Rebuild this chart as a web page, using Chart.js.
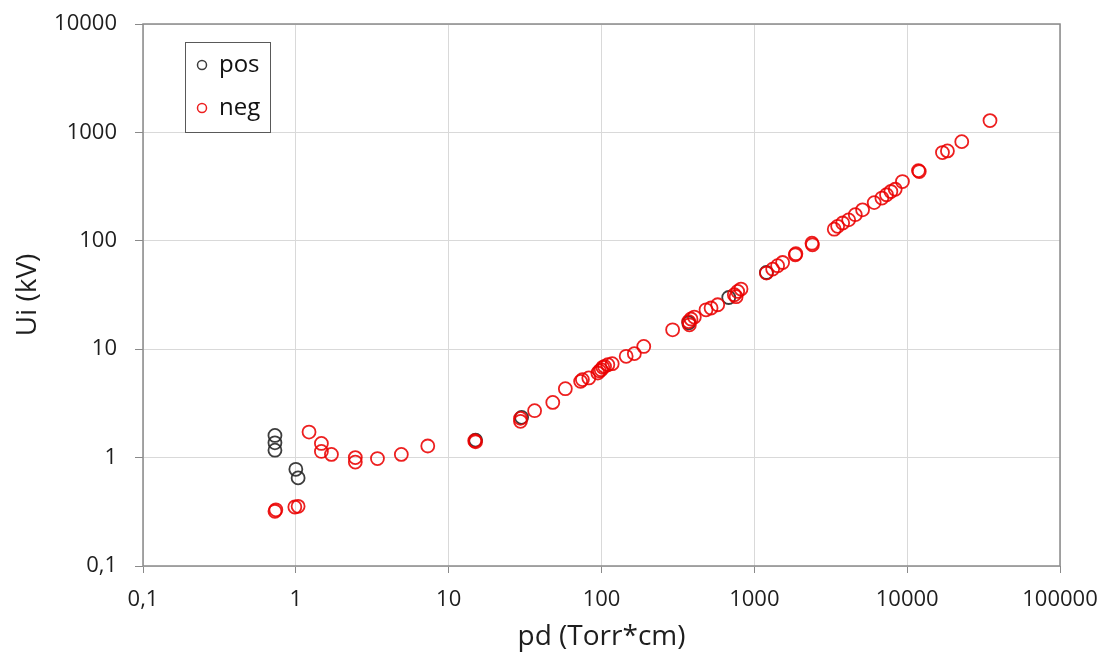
<!DOCTYPE html>
<html>
<head>
<meta charset="utf-8">
<script src="https://cdn.jsdelivr.net/npm/chart.js@4/dist/chart.umd.min.js"></script>
<style>
html,body{margin:0;padding:0;background:#fff;}
#wrap{width:1101px;height:655px;position:relative;}
</style>
</head>
<body>
<div id="wrap"><canvas id="c" width="1101" height="655"></canvas></div>
<script>
// ---- data ----
const seriesLabels = ["pos", "neg"];
const xTickValues = [0.1, 1, 10, 100, 1000, 10000, 100000];
const yTickValues = [0.1, 1, 10, 100, 1000, 10000];

const posX = [0.73, 0.73, 0.73, 1.0, 1.035, 15, 30, 372, 680, 1200];
const posY = [1.6, 1.37, 1.17, 0.78, 0.65, 1.45, 2.35, 17.5, 30, 51];

const negX = [0.73, 0.74, 0.985, 1.035, 1.22, 1.47, 1.47, 1.71, 2.45, 2.45, 3.42, 4.9, 7.3,
  14.8, 15, 29.5, 29.5, 36.5, 48, 58, 73, 75, 82.6, 94.6, 97, 99.5, 102, 104.7, 110, 117.5,
  145, 164, 189, 292, 372, 376, 385, 405, 483, 521, 576, 740, 760, 778, 818,
  1200, 1318, 1420, 1531, 1853, 1870, 2383, 2400, 3334, 3508, 3784, 4140, 4577, 5108,
  6085, 6832, 7325, 7822, 8350, 9315, 11850, 12000, 17020, 18340, 22760, 34830];
const negY = [0.32, 0.33, 0.35, 0.355, 1.72, 1.35, 1.14, 1.07, 1.0, 0.91, 0.98, 1.07, 1.28,
  1.43, 1.40, 2.3, 2.16, 2.71, 3.23, 4.32, 5.05, 5.24, 5.43, 6.03, 6.3, 6.47, 6.8, 6.94, 7.2, 7.35,
  8.6, 9.1, 10.6, 15.1, 18.0, 16.8, 19.0, 19.8, 23.1, 24, 25.7, 31.8, 30.5, 34.1, 35.9,
  50.4, 54.8, 58.9, 63.1, 74.3, 76, 95.1, 92, 128, 136, 146, 156, 174, 193,
  225, 248, 266, 285, 299, 352, 444, 436, 652, 675, 822, 1285];

const xTitle = "pd (Torr*cm)";
const yTitle = "Ui (kV)";

// ---- build ----
const toPts = (xs, ys) => xs.map((x, i) => ({x: x, y: ys[i]}));
const FONT = "'Open Sans', Lato, sans-serif";
const posColor = "rgba(40,40,40,0.9)";
const negColor = "rgba(235,0,0,0.88)";

const fmt = v => String(v).replace('.', ',');

const boxPlugin = {
  id: 'box',
  beforeDatasetsDraw(chart) {
    const a = chart.chartArea, ctx = chart.ctx;
    ctx.save();
    ctx.strokeStyle = '#8a8a8a';
    ctx.lineWidth = 1.5;
    ctx.strokeRect(a.left, a.top, a.right - a.left, a.bottom - a.top);
    ctx.restore();
  },
  afterDraw(chart) {
    const ctx = chart.ctx;
    ctx.save();
    ctx.fillStyle = '#fff';
    ctx.fillRect(185.5, 42.5, 85, 90);
    ctx.strokeStyle = '#595959';
    ctx.lineWidth = 1;
    ctx.strokeRect(185.5, 42.5, 85, 90);
    const rows = [65, 108];
    chart.data.datasets.forEach((ds, i) => {
      ctx.beginPath();
      ctx.arc(202, rows[i], 4.5, 0, Math.PI * 2);
      ctx.strokeStyle = ds.borderColor;
      ctx.lineWidth = 1.5;
      ctx.stroke();
      ctx.fillStyle = '#111';
      ctx.font = "24px " + FONT;
      ctx.textBaseline = 'middle';
      ctx.textAlign = 'left';
      ctx.fillText(ds.label, 219, rows[i]);
    });
    ctx.restore();
  }
};

const logTicks = vals => function(scale) {
  scale.ticks = vals.map(v => ({value: v}));
};

new Chart(document.getElementById('c'), {
  type: 'scatter',
  data: {
    datasets: [
      {label: seriesLabels[0], data: toPts(posX, posY), borderColor: posColor, backgroundColor: 'rgba(0,0,0,0)',
       pointRadius: 6.5, pointBorderWidth: 1.8, pointHoverRadius: 6.5, order: 2},
      {label: seriesLabels[1], data: toPts(negX, negY), borderColor: negColor, backgroundColor: 'rgba(0,0,0,0)',
       pointRadius: 6.5, pointBorderWidth: 1.8, pointHoverRadius: 6.5, order: 1}
    ]
  },
  options: {
    responsive: false,
    animation: false,
    events: [],
    layout: {padding: {top: 24, right: 41, bottom: 0, left: 0}},
    plugins: {legend: {display: false}, tooltip: {enabled: false}},
    scales: {
      x: {
        type: 'logarithmic', min: 0.1, max: 100000,
        afterBuildTicks: logTicks(xTickValues),
        afterFit(s) { s.height = 89; s.paddingLeft = 0; s.paddingRight = 0; },
        grid: {color: '#d9d9d9', lineWidth: 1, tickColor: '#8a8a8a', tickLength: 7, drawTicks: true},
        border: {display: false},
        ticks: {callback: v => fmt(v), font: {family: FONT, size: 22}, color: '#1e1e1e', padding: 14, maxRotation: 0, autoSkip: false},
        title: {display: true, text: xTitle, font: {family: FONT, size: 28}, color: '#1e1e1e', padding: {top: 0, bottom: 1}}
      },
      y: {
        type: 'logarithmic', min: 0.1, max: 10000,
        afterBuildTicks: logTicks(yTickValues),
        afterFit(s) { s.width = 143; s.paddingTop = 0; s.paddingBottom = 0; },
        grid: {color: '#d9d9d9', lineWidth: 1, tickColor: '#8a8a8a', tickLength: 8, drawTicks: true},
        border: {display: false},
        ticks: {callback: v => fmt(v), font: {family: FONT, size: 22}, color: '#1e1e1e', padding: 18, autoSkip: false},
        title: {display: true, text: yTitle, font: {family: FONT, size: 28}, color: '#1e1e1e', padding: {top: 11, bottom: 0}}
      }
    }
  },
  plugins: [boxPlugin]
});
</script>
</body>
</html>
